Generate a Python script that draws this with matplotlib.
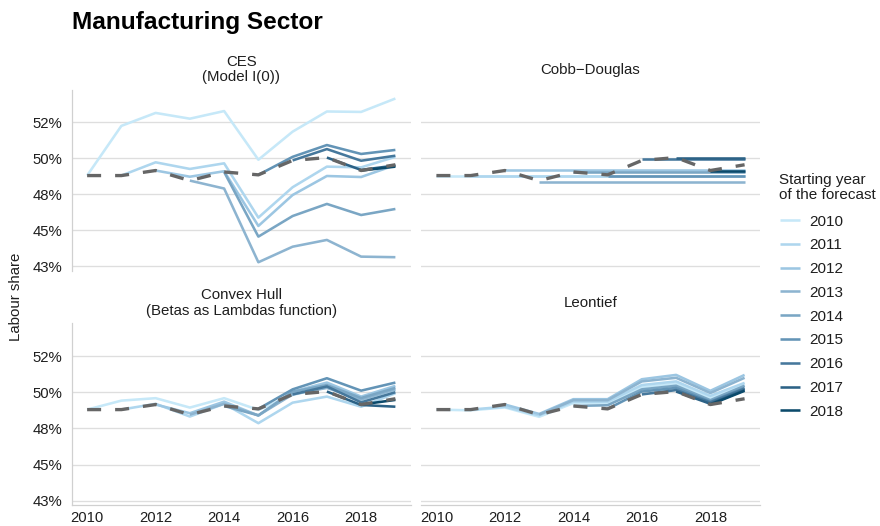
import matplotlib
matplotlib.use("Agg")
import matplotlib.pyplot as plt
from matplotlib.ticker import FixedLocator, FixedFormatter

plt.rcParams['font.family'] = ['Liberation Sans', 'DejaVu Sans']

years = list(range(2010, 2020))
start_years = list(range(2010, 2019))

# Observed labour share (%)
actual = [48.8, 48.8, 49.15, 48.45, 49.05, 48.85, 49.85, 50.05, 49.15, 49.55]

# Forecast paths: each list runs from its starting year up to 2019
ces = {
    2010: [48.8, 52.25, 53.15, 52.75, 53.28, 49.9, 51.85, 53.25, 53.22, 54.15],
    2011: [48.8, 49.72, 49.26, 49.65, 45.88, 47.99, 49.42, 49.37, 50.1],
    2012: [49.15, 48.72, 49.1, 45.3, 47.45, 48.77, 48.7, 49.53],
    2013: [48.45, 47.9, 42.78, 43.86, 44.33, 43.17, 43.13],
    2014: [49.05, 44.56, 45.99, 46.83, 46.06, 46.48],
    2015: [48.85, 50.1, 50.92, 50.3, 50.58],
    2016: [49.85, 50.64, 49.83, 50.18],
    2017: [50.05, 49.19, 49.5],
    2018: [49.15, 49.42],
}

cobb_douglas = {
    2010: [48.77, 48.77, 48.77, 48.77, 48.77, 48.77, 48.77, 48.77, 48.77, 48.77],
    2011: [48.77, 48.77, 48.77, 48.77, 48.77, 48.77, 48.77, 48.77, 48.77],
    2012: [49.19, 49.19, 49.19, 49.19, 49.19, 49.19, 49.19, 49.19],
    2013: [48.38, 48.38, 48.38, 48.38, 48.38, 48.38, 48.38],
    2014: [49.07, 49.07, 49.07, 49.07, 49.07, 49.07],
    2015: [48.8, 48.8, 48.8, 48.8, 48.8],
    2016: [49.93, 49.93, 49.93, 49.93],
    2017: [50.05, 50.05, 50.05],
    2018: [49.12, 49.12],
}

convex_hull = {
    2010: [48.8, 49.42, 49.59, 48.94, 49.59, 48.78, 49.81, 50.39, 49.47, 50.16],
    2011: [48.8, 49.2, 48.32, 49.2, 47.86, 49.28, 49.7, 49.0, 49.93],
    2012: [49.15, 48.55, 49.35, 48.39, 50.04, 50.67, 49.7, 50.44],
    2013: [48.45, 49.2, 48.4, 49.85, 50.3, 49.5, 50.2],
    2014: [49.05, 48.4, 50.04, 50.5, 49.6, 50.3],
    2015: [48.85, 50.2, 50.97, 50.11, 50.67],
    2016: [49.85, 50.4, 49.3, 50.0],
    2017: [50.05, 49.12, 49.0],
    2018: [49.15, 49.47],
}

leontief = {
    2010: [48.8, 48.75, 48.95, 48.3, 49.25, 49.25, 50.35, 50.6, 49.6, 50.5],
    2011: [48.8, 49.0, 48.4, 49.35, 49.35, 50.5, 50.75, 49.75, 50.65],
    2012: [49.15, 48.5, 49.52, 49.52, 50.9, 51.2, 50.1, 51.2],
    2013: [48.45, 49.45, 49.45, 50.75, 51.0, 49.95, 51.0],
    2014: [49.05, 49.1, 50.2, 50.45, 49.45, 50.45],
    2015: [48.85, 50.05, 50.3, 49.35, 50.3],
    2016: [49.85, 50.15, 49.3, 50.25],
    2017: [50.05, 49.2, 50.15],
    2018: [49.15, 50.1],
}

palette = ['#c6e8f8', '#aed6ee', '#9cc6e2', '#8db4d0', '#7aa6c4',
           '#6394b6', '#46789c', '#2c6286', '#0b4a6b']

y_ticks = [42.5, 45.0, 47.5, 50.0, 52.5]
y_labels = ['43%', '45%', '48%', '50%', '52%']
x_ticks = [2010, 2012, 2014, 2016, 2018]

panels = [
    ("CES\n(Model I(0))", ces),
    ("Cobb\u2212Douglas", cobb_douglas),
    ("Convex Hull\n(Betas as Lambdas function)", convex_hull),
    ("Leontief", leontief),
]

W, H = 880, 526
fig = plt.figure(figsize=(W / 100, H / 100), dpi=100)

# panel boxes in pixels: left, right, top, bottom
boxes = [
    (71.7, 410.8, 89.6, 270.6),
    (421.0, 760.0, 89.6, 270.6),
    (71.7, 410.8, 323.3, 505.0),
    (421.0, 760.0, 323.3, 505.0),
]

grid_col = '#dedede'
text_col = '#1e1e1e'
legend_handles = []

for i, ((title, fc), (l, r, t, b)) in enumerate(zip(panels, boxes)):
    ax = fig.add_axes([l / W, 1 - b / H, (r - l) / W, (b - t) / H])
    ax.set_xlim(2009.55, 2019.45)
    ax.set_ylim(42.2, 54.77)
    for s in ax.spines.values():
        s.set_visible(False)
    ax.yaxis.set_major_locator(FixedLocator(y_ticks))
    ax.xaxis.set_major_locator(FixedLocator(x_ticks))
    ax.grid(axis='y', color=grid_col, linewidth=0.95)
    ax.set_axisbelow(True)
    ax.tick_params(length=0, labelsize=10.7, colors=text_col)
    ax.tick_params(axis='y', pad=6.5)
    ax.tick_params(axis='x', pad=4.5)

    left_col = i % 2 == 0
    bottom_row = i >= 2
    if left_col:
        ax.spines['left'].set_visible(True)
        ax.spines['left'].set_color('#d0d0d0')
        ax.spines['left'].set_linewidth(0.9)
        ax.yaxis.set_major_formatter(FixedFormatter(y_labels))
    else:
        ax.set_yticklabels([])
    if bottom_row:
        ax.spines['bottom'].set_visible(True)
        ax.spines['bottom'].set_color('#d0d0d0')
        ax.spines['bottom'].set_linewidth(0.9)
    else:
        ax.set_xticklabels([])

    for k, sy in enumerate(start_years):
        vals = fc[sy]
        xs = years[years.index(sy):]
        ln, = ax.plot(xs, vals, color=palette[k], linewidth=1.85,
                      solid_capstyle='butt', solid_joinstyle='round',
                      label=str(sy))
        if i == 0:
            legend_handles.append(ln)

    ax.plot(years, actual, color='#666666', linewidth=2.4,
            dashes=(4.2, 4.2), dash_capstyle='butt', zorder=5)

    cx = (l + r) / 2
    fig.text(cx / W, 1 - (t - 20) / H, title, ha='center', va='center',
             fontsize=10.8, color=text_col, linespacing=1.15)

fig.text(72 / W, 1 - 23 / H, "Manufacturing Sector", fontsize=17.6,
         fontweight='bold', ha='left', va='center', color='black')

fig.text(16 / W, 1 - 297 / H, "Labour share", rotation=90, ha='center',
         va='center', fontsize=10.8, color=text_col)

# legend title and entries
fig.text(779 / W, 1 - 187.5 / H, "Starting year\nof the forecast", ha='left',
         va='center', fontsize=11, color=text_col, linespacing=1.05)

leg = fig.legend(handles=legend_handles, labels=[str(s) for s in start_years],
                 loc='upper left', bbox_to_anchor=(780 / W, 1 - 214.5 / H),
                 frameon=False, fontsize=11, handlelength=1.31,
                 handletextpad=0.6, labelspacing=0.64, borderpad=0,
                 borderaxespad=0)
for txt in leg.get_texts():
    txt.set_color(text_col)

fig.savefig("out.png", dpi=100)
